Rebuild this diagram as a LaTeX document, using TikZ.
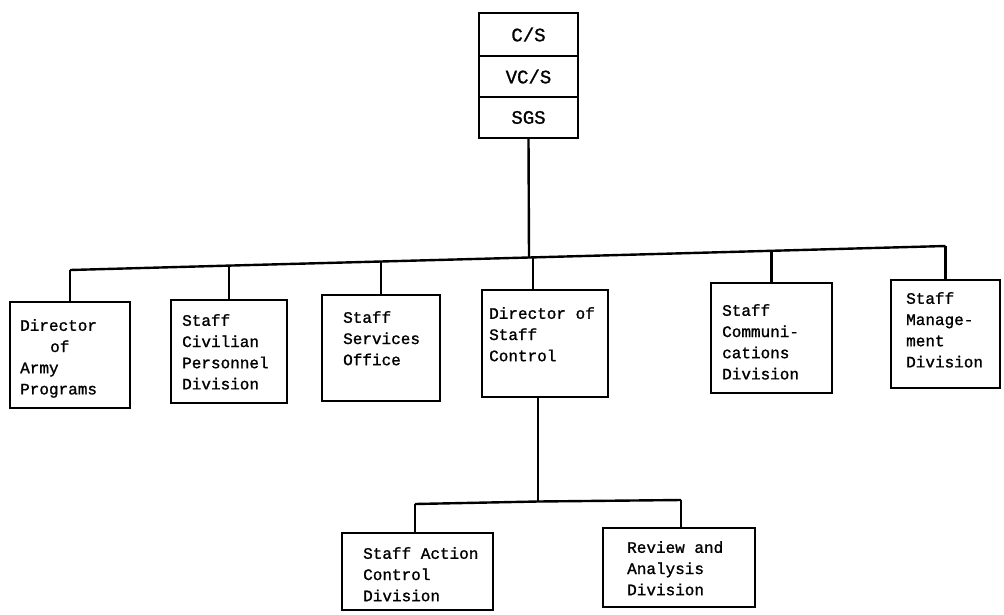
\documentclass[tikz,border=0pt]{standalone}
\usepackage{fontspec}
\newfontfamily\typewr[FakeBold=1.2]{Liberation Mono}
\begin{document}
\begin{tikzpicture}[x=1pt,y=-1pt,
  box/.style={draw, line width=2.2pt, rectangle, inner sep=0pt, outer sep=0pt},
  lbl/.style={anchor=north west, align=left, inner sep=0pt,
    font=\typewr\fontsize{16}{21.2}\selectfont},
  toplbl/.style={inner sep=0pt, font=\typewr\fontsize{19}{22}\selectfont},
  wire/.style={line width=2.4pt}]
\useasboundingbox (0,0) rectangle (1004,614);

% command stack
\node[box, minimum width=99pt, minimum height=43pt] (cs)  at (528.5,34.5) {};
\node[box, minimum width=99pt, minimum height=41pt] (vcs) at (528.5,76.5) {};
\node[box, minimum width=99pt, minimum height=41pt] (sgs) at (528.5,117.5) {};
\node[toplbl] (cs-t)  at (cs)  {C/S};
\node[toplbl] (vcs-t) at (vcs) {VC/S};
\node[toplbl] (sgs-t) at (sgs) {SGS};

% staff offices
\node[box, minimum width=120pt, minimum height=106pt] (army) at (70,355) {};
\node[box, minimum width=116pt, minimum height=103pt] (civ)  at (229,351.5) {};
\node[box, minimum width=118pt, minimum height=106pt] (serv) at (381,348) {};
\node[box, minimum width=126pt, minimum height=107pt] (dsc)  at (545,343.5) {};
\node[box, minimum width=121pt, minimum height=110pt] (comm) at (771.5,338) {};
\node[box, minimum width=109pt, minimum height=108pt] (mgmt) at (945.5,334) {};

\node[lbl] (army-t) at (20,319) {Director\\\hspace*{30pt}of\\Army\\Programs};
\node[lbl] (civ-t)  at (182,314) {Staff\\Civilian\\Personnel\\Division};
\node[lbl] (serv-t) at (343,311) {Staff\\Services\\Office};
\node[lbl] (dsc-t)  at (489,307) {Director of\\Staff\\Control};
\node[lbl] (comm-t) at (722,304) {Staff\\Communi-\\cations\\Division};
\node[lbl] (mgmt-t) at (906,292) {Staff\\Manage-\\ment\\Division};

% divisions under the Director of Staff Control
\node[box, minimum width=151pt, minimum height=77pt] (sac) at (417.5,571.5) {};
\node[box, minimum width=152pt, minimum height=79pt] (rad) at (679,567.5) {};
\node[lbl] (sac-t) at (363,547) {Staff Action\\Control\\Division};
\node[lbl] (rad-t) at (627,541) {Review and\\Analysis\\Division};

% junction points on the main bus
\coordinate (jArmy) at (70,270);
\coordinate (jCiv)  at (229,265.6);
\coordinate (jServ) at (381,261.5);
\coordinate (jTop)  at (529,257.5);
\coordinate (jDsc)  at (533,257.3);
\coordinate (jComm) at (771.5,250.8);
\coordinate (jMgmt) at (945.5,246);

\draw[wire] (jArmy) -- (jCiv) -- (jServ) -- (jTop) -- (jComm) -- (jMgmt);
\draw[wire] (sgs.south) -- (jTop);
\draw[wire] (jArmy) -- (jArmy |- army.north);
\draw[wire] (jCiv)  -- (jCiv |- civ.north);
\draw[wire] (jServ) -- (jServ |- serv.north);
\draw[wire] (jDsc)  -- (jDsc |- dsc.north);
\draw[wire] (jComm) -- (jComm |- comm.north);
\draw[wire] (jMgmt) -- (jMgmt |- mgmt.north);

% lower bus
\coordinate (sbus) at (538,501.5);
\coordinate (jSac) at (415,504);
\coordinate (jRad) at (681,500);
\draw[wire] (sbus |- dsc.south) -- (sbus);
\draw[wire] (jSac) -- (sbus) -- (jRad);
\draw[wire] (jSac) -- (jSac |- sac.north);
\draw[wire] (jRad) -- (jRad |- rad.north);
\end{tikzpicture}
\end{document}
